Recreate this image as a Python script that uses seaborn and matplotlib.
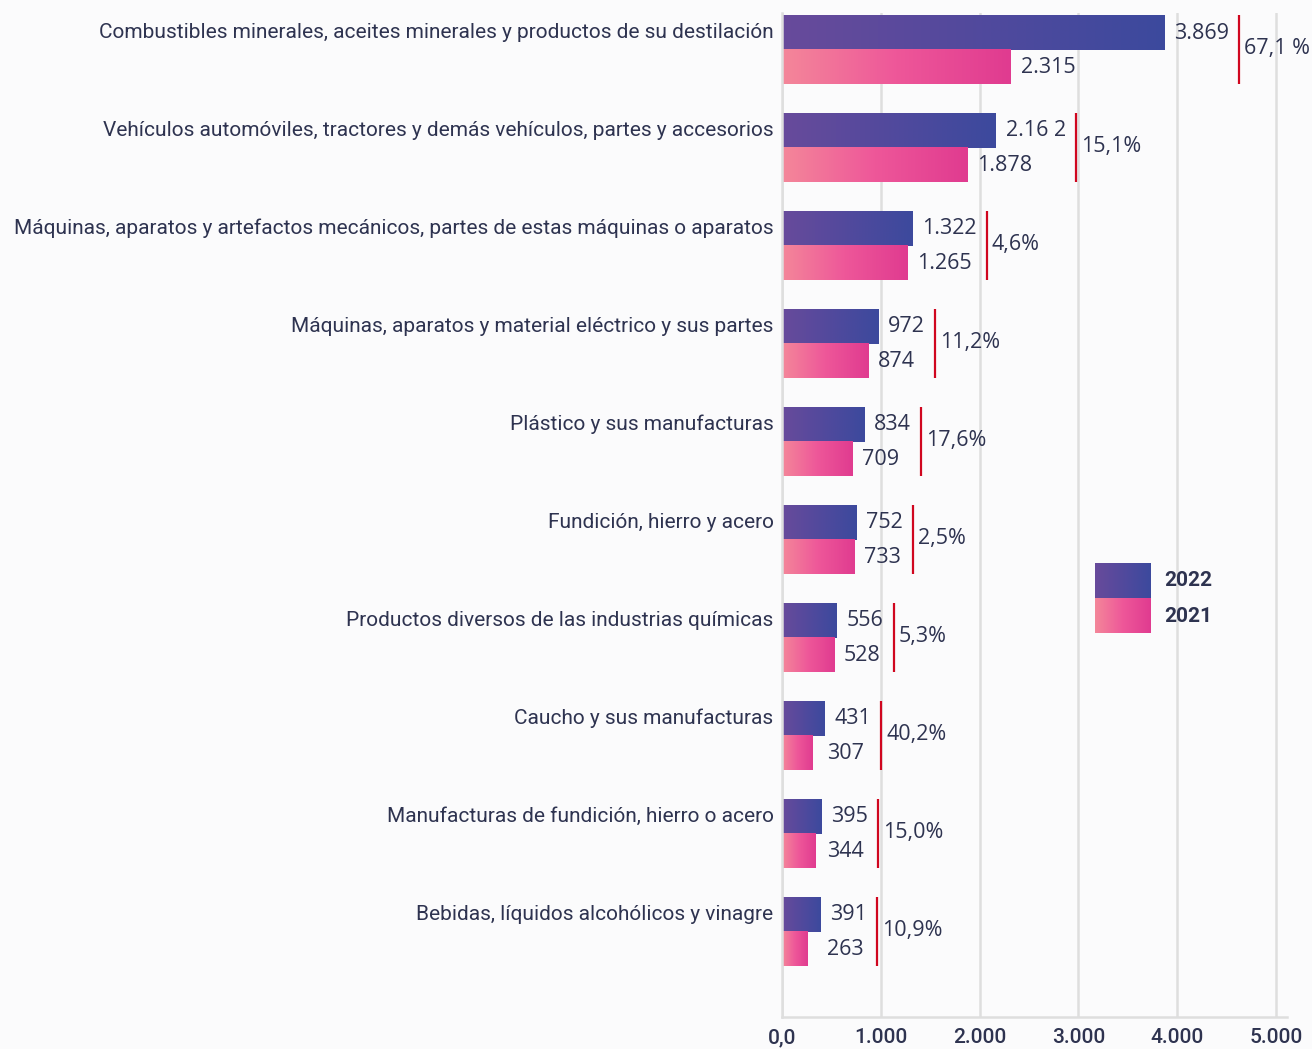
import numpy as np
import pandas as pd
import matplotlib
matplotlib.use("Agg")
import matplotlib.pyplot as plt
import matplotlib.transforms as mtransforms
from matplotlib.colors import LinearSegmentedColormap, to_hex
import seaborn as sns

# ---------------- data ----------------
categories = [
    "Combustibles minerales, aceites minerales y productos de su destilación",
    "Vehículos automóviles, tractores y demás vehículos, partes y accesorios",
    "Máquinas, aparatos y artefactos mecánicos, partes de estas máquinas o aparatos",
    "Máquinas, aparatos y material eléctrico y sus partes",
    "Plástico y sus manufacturas",
    "Fundición, hierro y acero",
    "Productos diversos de las industrias químicas",
    "Caucho y sus manufacturas",
    "Manufacturas de fundición, hierro o acero",
    "Bebidas, líquidos alcohólicos y vinagre",
]
values_2022 = [3869, 2162, 1322, 972, 834, 752, 556, 431, 395, 391]
values_2021 = [2315, 1878, 1265, 874, 709, 733, 528, 307, 344, 263]
labels_2022 = ["3.869", "2.16 2", "1.322", "972", "834", "752", "556", "431", "395", "391"]
labels_2021 = ["2.315", "1.878", "1.265", "874", "709", "733", "528", "307", "344", "263"]
pct_labels = ["67,1 %", "15,1%", "4,6%", "11,2%", "17,6%", "2,5%", "5,3%", "40,2%", "15,0%", "10,9%"]
series_names = ["2022", "2021"]
x_ticks = [0, 1000, 2000, 3000, 4000, 5000]
x_tick_labels = ["0,0", "1.000", "2.000", "3.000", "4.000", "5.000"]

# ---------------- style ----------------
BG = "#fbfbfc"
TXT = "#2e3350"
GRID = "#dedede"
RED = "#d0061f"
cmap22 = LinearSegmentedColormap.from_list("c22", ["#684b9b", "#52499d", "#3c4a9d"])
cmap21 = LinearSegmentedColormap.from_list("c21", ["#f4879a", "#ee5799", "#e03b90"])
base22, base21 = "#111111", "#eeeeee"

sns.set_theme(style="white")
plt.rcParams["font.family"] = ["Roboto", "DejaVu Sans"]

df = pd.DataFrame({
    "cat": categories * 2,
    "val": values_2022 + values_2021,
    "year": [series_names[0]] * len(categories) + [series_names[1]] * len(categories),
})

fig = plt.figure(figsize=(13.12, 10.49), dpi=100, facecolor=BG)
ax = fig.add_axes([0.596, 0.0305, 0.385, 0.957])
ax.set_facecolor(BG)

sns.barplot(data=df, y="cat", x="val", hue="year", hue_order=series_names,
            order=categories, orient="h", width=0.7, ax=ax, legend=False,
            palette=[base22, base21], saturation=1, errorbar=None)

grad = np.linspace(0, 1, 256).reshape(1, -1)
for p in list(ax.patches):
    fc = to_hex(p.get_facecolor())
    cm = cmap22 if fc == base22 else cmap21
    x0, y0, w, h = p.get_x(), p.get_y(), p.get_width(), p.get_height()
    ax.imshow(grad, cmap=cm, extent=[x0, x0 + w, y0 + h, y0], aspect="auto",
              interpolation="bicubic", zorder=2)
    p.set_visible(False)

XMAX = 5111
ax.set_xlim(0, XMAX)
ax.set_ylim(9.867, -0.378)
ax.set_aspect("auto")

# axes styling
ax.set_xticks(x_ticks, x_tick_labels)
ax.set_yticks(np.arange(len(categories)) - 0.2, categories)
ax.tick_params(axis="y", length=0, pad=6, labelsize=15, labelcolor=TXT)
ax.tick_params(axis="x", length=0, pad=8, labelsize=15, labelcolor=TXT)
for lbl in ax.get_xticklabels():
    lbl.set_fontweight("medium")
ax.set_xlabel("")
ax.set_ylabel("")
ax.xaxis.grid(True, color=GRID, lw=1.8)
ax.yaxis.grid(False)
ax.set_axisbelow(True)
for s in ["top", "right"]:
    ax.spines[s].set_visible(False)
for s in ["left", "bottom"]:
    ax.spines[s].set_color(GRID)
    ax.spines[s].set_linewidth(1.8)

# value labels
VFONT = ["Open Sans", "DejaVu Sans"]
VSIZE = 15.5
off = 100
vmin = 455
texts = []
for i in range(len(categories)):
    t1 = ax.text(max(values_2022[i] + off, vmin), i - 0.175, labels_2022[i],
                 ha="left", va="center", fontsize=VSIZE, color=TXT, family=VFONT, zorder=3)
    t2 = ax.text(max(values_2021[i] + off, vmin), i + 0.175, labels_2021[i],
                 ha="left", va="center", fontsize=VSIZE, color=TXT, family=VFONT, zorder=3)
    texts.append((t1, t2))

fig.canvas.draw()
renderer = fig.canvas.get_renderer()
inv = ax.transData.inverted()
for i, (t1, t2) in enumerate(texts):
    right_px = max(t1.get_window_extent(renderer).x1, t2.get_window_extent(renderer).x1)
    line_x = inv.transform((right_px + 10, 0))[0]
    ax.vlines(line_x, i - 0.36, i + 0.35, color=RED, lw=1.6, zorder=3)
    tr = mtransforms.offset_copy(ax.transData, fig=fig, x=5, y=0, units="dots")
    ax.text(line_x, i - 0.02, pct_labels[i], transform=tr, ha="left", va="center",
            fontsize=VSIZE, color=TXT, family=VFONT, zorder=3)

# legend (gradient swatches)
W, H = 1312, 1049
for k, (name, cm) in enumerate(zip(series_names, [cmap22, cmap21])):
    top = 563 + 35 * k
    lax = fig.add_axes([1095 / W, 1 - (top + 35) / H, 56 / W, 35 / H])
    lax.imshow(grad, cmap=cm, aspect="auto", interpolation="bicubic")
    lax.set_axis_off()
    fig.text(1164 / W, 1 - (top + 18) / H, name, ha="left", va="center",
             fontsize=15, fontweight="bold", color=TXT)

fig.savefig("out.png", dpi=100, facecolor=BG)
